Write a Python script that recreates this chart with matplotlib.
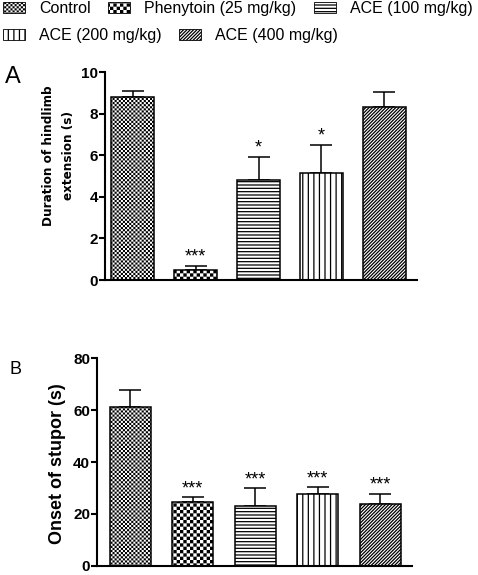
import matplotlib
matplotlib.use('Agg')
import matplotlib.pyplot as plt
import matplotlib.hatch as mhatch
from matplotlib import font_manager
from matplotlib.patches import Patch
from matplotlib.path import Path
import numpy as np

groups = ['Control', 'Phenytoin (25 mg/kg)', 'ACE (100 mg/kg)', 'ACE (200 mg/kg)', 'ACE (400 mg/kg)']
hindlimb = [8.8, 0.48, 4.8, 5.16, 8.3]
hindlimb_err = [0.3, 0.21, 1.13, 1.34, 0.72]
hindlimb_sig = ['', '***', '*', '*', '']
stupor = [61.1, 24.5, 23.1, 27.7, 23.9]
stupor_err = [6.5, 1.9, 6.8, 2.5, 3.8]
stupor_sig = ['', '***', '***', '***', '***']

HATCH_LW = 0.9


# checkerboard hatch, used in place of the star hatch ('*')
class Checker(mhatch.HatchPatternBase):
    def __init__(self, hatch, density):
        self.n = 2 * int(hatch.count('*') * density / 2)
        self.num_vertices = (self.n * self.n // 2) * 5

    def set_vertices_and_codes(self, vertices, codes):
        step = 1.0 / self.n
        pad = HATCH_LW / 72 / 2
        k = 0
        for i in range(self.n):
            for j in range(self.n):
                if (i + j) % 2:
                    continue
                x0, y0 = i * step + pad, j * step + pad
                x1, y1 = (i + 1) * step - pad, (j + 1) * step - pad
                vertices[k:k + 5] = [(x0, y0), (x1, y0), (x1, y1), (x0, y1), (x0, y0)]
                codes[k:k + 5] = [Path.MOVETO, Path.LINETO, Path.LINETO, Path.LINETO, Path.CLOSEPOLY]
                k += 5


mhatch._hatch_types = [t for t in mhatch._hatch_types if t is not mhatch.Stars] + [Checker]

plt.rcParams['font.family'] = ['Liberation Sans', 'DejaVu Sans']
plt.rcParams['hatch.linewidth'] = HATCH_LW
plt.rcParams['hatch.color'] = 'black'

# narrow bold font for the panel A label, if one is installed
narrow = [f for f in font_manager.fontManager.ttflist
          if ('Narrow' in f.fname or 'Cond' in f.fname) and f.weight in ('bold', 700) and f.style == 'normal']
narrow.sort(key=lambda f: 'Liberation' not in f.fname)
if narrow:
    label_a_font = dict(fontproperties=font_manager.FontProperties(fname=narrow[0].fname, size=9.6),
                        linespacing=1.75)
else:
    label_a_font = dict(fontsize=8.8, fontweight='bold', linespacing=1.75)

hatches = ['********', '*****', '-----', '|||', '//////////']

fig = plt.figure(figsize=(4.78, 5.75), dpi=100)


def panel(rect, vals, errs, sig, ylim, yticks, xlim, width, ylabel, lab_font, lab_pos,
          letter, letter_pos, letter_size):
    ax = fig.add_axes(rect)
    x = np.arange(len(vals))
    ax.bar(x, vals, width=width, color='white', edgecolor='black', linewidth=1.1,
           hatch=hatches, zorder=2)
    ax.errorbar(x, vals, yerr=[np.zeros(len(vals)), errs], fmt='none', ecolor='black',
                elinewidth=1.1, capsize=8, capthick=1.1, zorder=1)
    for xi, v, e, s in zip(x, vals, errs, sig):
        if s:
            ax.annotate(s, (xi, v + e), xytext=(0, 0), textcoords='offset points',
                        ha='center', va='bottom', fontsize=13)
    ax.set_xlim(*xlim)
    ax.set_ylim(*ylim)
    ax.set_yticks(yticks)
    ax.set_xticks([])
    for side in ['top', 'right']:
        ax.spines[side].set_visible(False)
    for side in ['left', 'bottom']:
        ax.spines[side].set_linewidth(1.5)
    ax.tick_params(axis='y', length=4, width=1.5, labelsize=11, pad=1)
    for t in ax.get_yticklabels():
        t.set_fontweight('bold')
    ax.set_ylabel(ylabel, **lab_font)
    ax.yaxis.set_label_coords(*lab_pos)
    fig.text(letter_pos[0], letter_pos[1], letter, fontsize=letter_size, ha='left', va='top')
    return ax


panel([0.2197, 0.513, 0.653, 0.3617], hindlimb, hindlimb_err, hindlimb_sig,
      (0, 10), [0, 2, 4, 6, 8, 10], (-0.44, 4.52), 0.68,
      'Duration of hindlimb\nextension (s)',
      label_a_font,
      (-0.096, 0.60),
      'A', (0.010, 1 - 66 / 575), 17)

panel([0.203, 0.016, 0.659, 0.361], stupor, stupor_err, stupor_sig,
      (0, 80), [0, 20, 40, 60, 80], (-0.53, 4.51), 0.66,
      'Onset of stupor (s)',
      dict(fontsize=13, fontweight='bold'),
      (-0.10, 0.49),
      'B', (0.020, 1 - 361 / 575), 13)

handles = [Patch(facecolor='white', edgecolor='black', linewidth=0.6, hatch=h) for h in hatches]
leg_kw = dict(loc='upper left', frameon=False, fontsize=11.5, handlelength=1.4, handleheight=0.65,
              handletextpad=0.85, columnspacing=1.1, borderpad=0, borderaxespad=0)
fig.legend(handles[:3], groups[:3], ncol=3, bbox_to_anchor=(0.006, 1 - 1 / 575), **leg_kw)
fig.legend(handles[3:], groups[3:], ncol=2, bbox_to_anchor=(0.006, 1 - 28 / 575), **leg_kw)

fig.savefig('out.png', dpi=100)
